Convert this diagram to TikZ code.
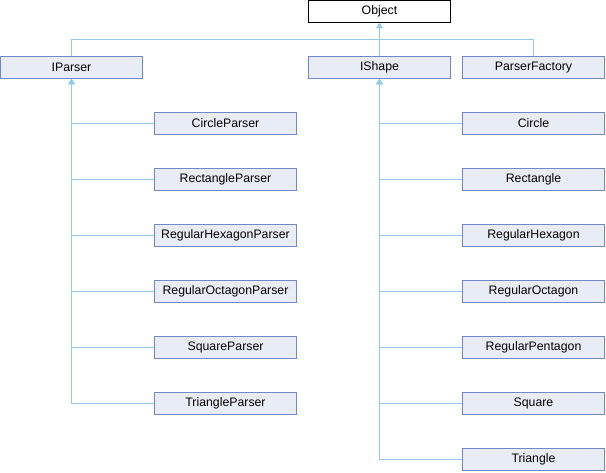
\documentclass[tikz,border=0pt]{standalone}
\usepackage{fontspec}
\setmainfont{Liberation Sans}
\usepackage{tikz}
\usepackage{xcolor}
\usetikzlibrary{arrows.meta,positioning}
\definecolor{boxline}{HTML}{7288C6}
\definecolor{boxfill}{HTML}{E8ECF5}
\definecolor{linkblue}{HTML}{92CAEC}
\tikzset{
  classbox/.style={draw=boxline,fill=boxfill,line width=1pt,
                   minimum width=142pt,minimum height=22pt,inner sep=0pt,
                   font=\fontsize{12.3}{14}\selectfont},
  rootbox/.style={classbox,draw=black,fill=white},
  inherit/.style={{Triangle[length=5pt,width=6pt]}-,line width=1pt,
                  draw=linkblue}
}

\begin{document}
\begin{tikzpicture}[x=1pt,y=-1pt]
    \path[use as bounding box] (0,0) rectangle (606,472);
    \node[rootbox] (object) at (379.5,11.5) {Object};

    \node[classbox] (iparser) at (71.5,67.5) {IParser};
    \node[classbox] (ishape) at (379.5,67.5) {IShape};
    \node[classbox] (factory) at (533.5,67.5) {ParserFactory};
    \draw[inherit] (object.south) -- (ishape.north);
    \draw[inherit] (object.south) -- ++(0,16.5) -| (iparser.north);
    \draw[inherit] (object.south) -- ++(0,16.5) -| (factory.north);

    % parsers
    \node[classbox] (circlep) at (225.5,123.5) {CircleParser};
    \node[classbox] (rectp) at (225.5,179.5) {RectangleParser};
    \node[classbox] (hexp) at (225.5,235.5) {RegularHexagonParser};
    \node[classbox] (octp) at (225.5,291.5) {RegularOctagonParser};
    \node[classbox] (squarep) at (225.5,347.5) {SquareParser};
    \node[classbox] (trip) at (225.5,403.5) {TriangleParser};
    \draw[inherit] (iparser.south) |- (circlep.west);
    \draw[inherit] (iparser.south) |- (rectp.west);
    \draw[inherit] (iparser.south) |- (hexp.west);
    \draw[inherit] (iparser.south) |- (octp.west);
    \draw[inherit] (iparser.south) |- (squarep.west);
    \draw[inherit] (iparser.south) |- (trip.west);

    % shapes
    \node[classbox] (circle) at (533.5,123.5) {Circle};
    \node[classbox] (rect) at (533.5,179.5) {Rectangle};
    \node[classbox] (hex) at (533.5,235.5) {RegularHexagon};
    \node[classbox] (oct) at (533.5,291.5) {RegularOctagon};
    \node[classbox] (pent) at (533.5,347.5) {RegularPentagon};
    \node[classbox] (square) at (533.5,403.5) {Square};
    \node[classbox] (tri) at (533.5,459.5) {Triangle};
    \draw[inherit] (ishape.south) |- (circle.west);
    \draw[inherit] (ishape.south) |- (rect.west);
    \draw[inherit] (ishape.south) |- (hex.west);
    \draw[inherit] (ishape.south) |- (oct.west);
    \draw[inherit] (ishape.south) |- (pent.west);
    \draw[inherit] (ishape.south) |- (square.west);
    \draw[inherit] (ishape.south) |- (tri.west);
  \end{tikzpicture}
\end{document}
